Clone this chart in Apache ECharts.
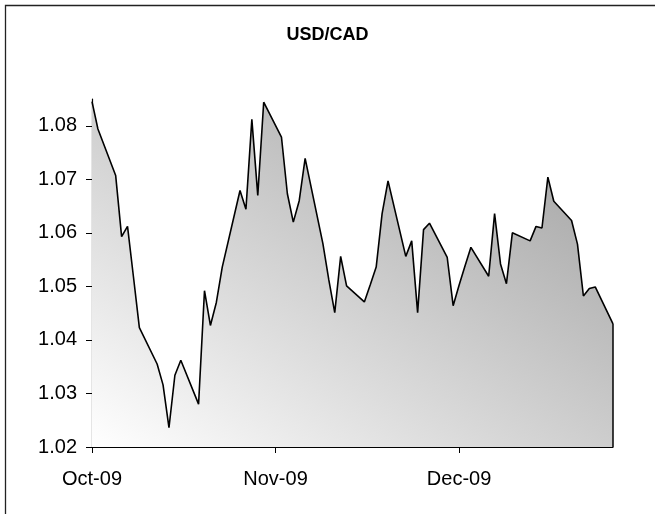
<!DOCTYPE html>
<html>
<head>
<meta charset="utf-8">
<script src="https://cdn.jsdelivr.net/npm/echarts@6/dist/echarts.min.js"></script>
<style>
html,body{margin:0;padding:0;background:#fff;}
#chart{width:655px;height:514px;}
</style>
</head>
<body>
<div id="chart"></div>
<script>
const dates = [
'2009-10-01','2009-10-02','2009-10-05','2009-10-06','2009-10-07','2009-10-08','2009-10-09',
'2009-10-12','2009-10-13','2009-10-14','2009-10-15','2009-10-16',
'2009-10-19','2009-10-20','2009-10-21','2009-10-22','2009-10-23',
'2009-10-26','2009-10-27','2009-10-28','2009-10-29','2009-10-30',
'2009-11-02','2009-11-03','2009-11-04','2009-11-05','2009-11-06',
'2009-11-09','2009-11-10','2009-11-11','2009-11-12','2009-11-13',
'2009-11-16','2009-11-17','2009-11-18','2009-11-19','2009-11-20',
'2009-11-23','2009-11-24','2009-11-25','2009-11-26','2009-11-27',
'2009-11-30','2009-12-01','2009-12-02','2009-12-03','2009-12-04',
'2009-12-07','2009-12-08','2009-12-09','2009-12-10','2009-12-11',
'2009-12-14','2009-12-15','2009-12-16','2009-12-17','2009-12-18',
'2009-12-21','2009-12-22','2009-12-23','2009-12-24','2009-12-25',
'2009-12-28'
];
const rates = [
1.0845,1.0794,1.0707,1.0593,1.0612,1.0518,1.0423,
1.0355,1.0316,1.0236,1.0334,1.0362,
1.0280,1.0492,1.0427,1.0470,1.0536,
1.0679,1.0644,1.0812,1.0670,1.0844,
1.0779,1.0673,1.0620,1.0660,1.0739,
1.0580,1.0512,1.0451,1.0556,1.0501,
1.0471,1.0503,1.0536,1.0636,1.0697,
1.0556,1.0585,1.0451,1.0606,1.0618,
1.0554,1.0464,1.0502,1.0538,1.0573,
1.0519,1.0636,1.0542,1.0505,1.0600,
1.0585,1.0612,1.0609,1.0704,1.0659,
1.0623,1.0579,1.0482,1.0496,1.0499,
1.0430
];
const tickDates = ['2009-10-01','2009-11-01','2009-12-02'];
const tickLabels = ['Oct-09','Nov-09','Dec-09'];
const yTicks = [1.02,1.03,1.04,1.05,1.06,1.07,1.08];
const yMin = 1.02;
const yMax = 1.085;
const titleText = 'USD/CAD';

function dayOf(s){
  const p = s.split('-').map(Number);
  return Math.round((Date.UTC(p[0],p[1]-1,p[2]) - Date.UTC(2009,9,1)) / 86400000);
}
const xs = dates.map(dayOf);
const seriesData = xs.map((x,i)=>[x, rates[i]]);
const tickX = tickDates.map(dayOf);
const lastX = xs[xs.length-1];
const lastV = rates[rates.length-1];

// diagonal gradient whose isolines run along the box's top-left/bottom-right diagonal
const GW = 521, GH = 345;
const gs = GW*GW + GH*GH;
const gx2 = 2*GH*GH/gs, gy2 = 1 - 2*GW*GW/gs;

const FONT = "'Liberation Sans', Arial, Helvetica, sans-serif";
const chart = echarts.init(document.getElementById('chart'), null, {renderer:'canvas'});
chart.setOption({
  animation:false,
  backgroundColor:'#ffffff',
  title:{
    text:titleText, left:'center', top:21,
    textStyle:{fontFamily:FONT,fontSize:18,fontWeight:'bold',color:'#000'}
  },
  graphic:[{
    type:'rect', silent:true,
    shape:{x:5.5,y:5.5,width:760,height:620},
    style:{fill:'none',stroke:'#222',lineWidth:1.3}
  }],
  grid:{left:92,right:42,top:99,bottom:67,containLabel:false,outerBoundsMode:'none'},
  xAxis:{
    type:'value', min:0, max:lastX,
    axisLine:{show:true,onZero:false,lineStyle:{color:'#000',width:1.2}},
    axisTick:{show:true,length:6,inside:false,customValues:tickX,lineStyle:{color:'#000',width:1}},
    axisLabel:{
      show:true, customValues:tickX, margin:22,
      fontFamily:FONT, fontSize:20, color:'#000',
      formatter:function(v){ const i = tickX.indexOf(Math.round(v)); return i>=0 ? tickLabels[i] : ''; }
    },
    splitLine:{show:false}
  },
  yAxis:{
    type:'value', min:yMin, max:yMax,
    axisLine:{show:true,lineStyle:{color:'#000',width:1.2}},
    axisTick:{show:true,length:6,inside:false,customValues:yTicks,lineStyle:{color:'#000',width:1}},
    axisLabel:{
      show:true, customValues:yTicks, margin:15,
      fontFamily:FONT, fontSize:20, color:'#000',
      formatter:function(v){ return Number(v).toFixed(2); }
    },
    splitLine:{show:false}
  },
  series:[{
    type:'line',
    data:seriesData,
    symbol:'none',
    lineStyle:{color:'#000',width:1.6},
    areaStyle:{
      origin:'start',
      opacity:1,
      color:new echarts.graphic.LinearGradient(0,1,gx2,gy2,[
        {offset:0,color:'#ffffff'},
        {offset:1,color:'#9c9c9c'}
      ])
    },
    markLine:{
      silent:true, symbol:['none','none'], animation:false,
      label:{show:false},
      lineStyle:{color:'#000',width:1.5,type:'solid'},
      emphasis:{disabled:true},
      data:[[{coord:[lastX,lastV]},{coord:[lastX,yMin]}]]
    }
  }]
});
</script>
</body>
</html>
